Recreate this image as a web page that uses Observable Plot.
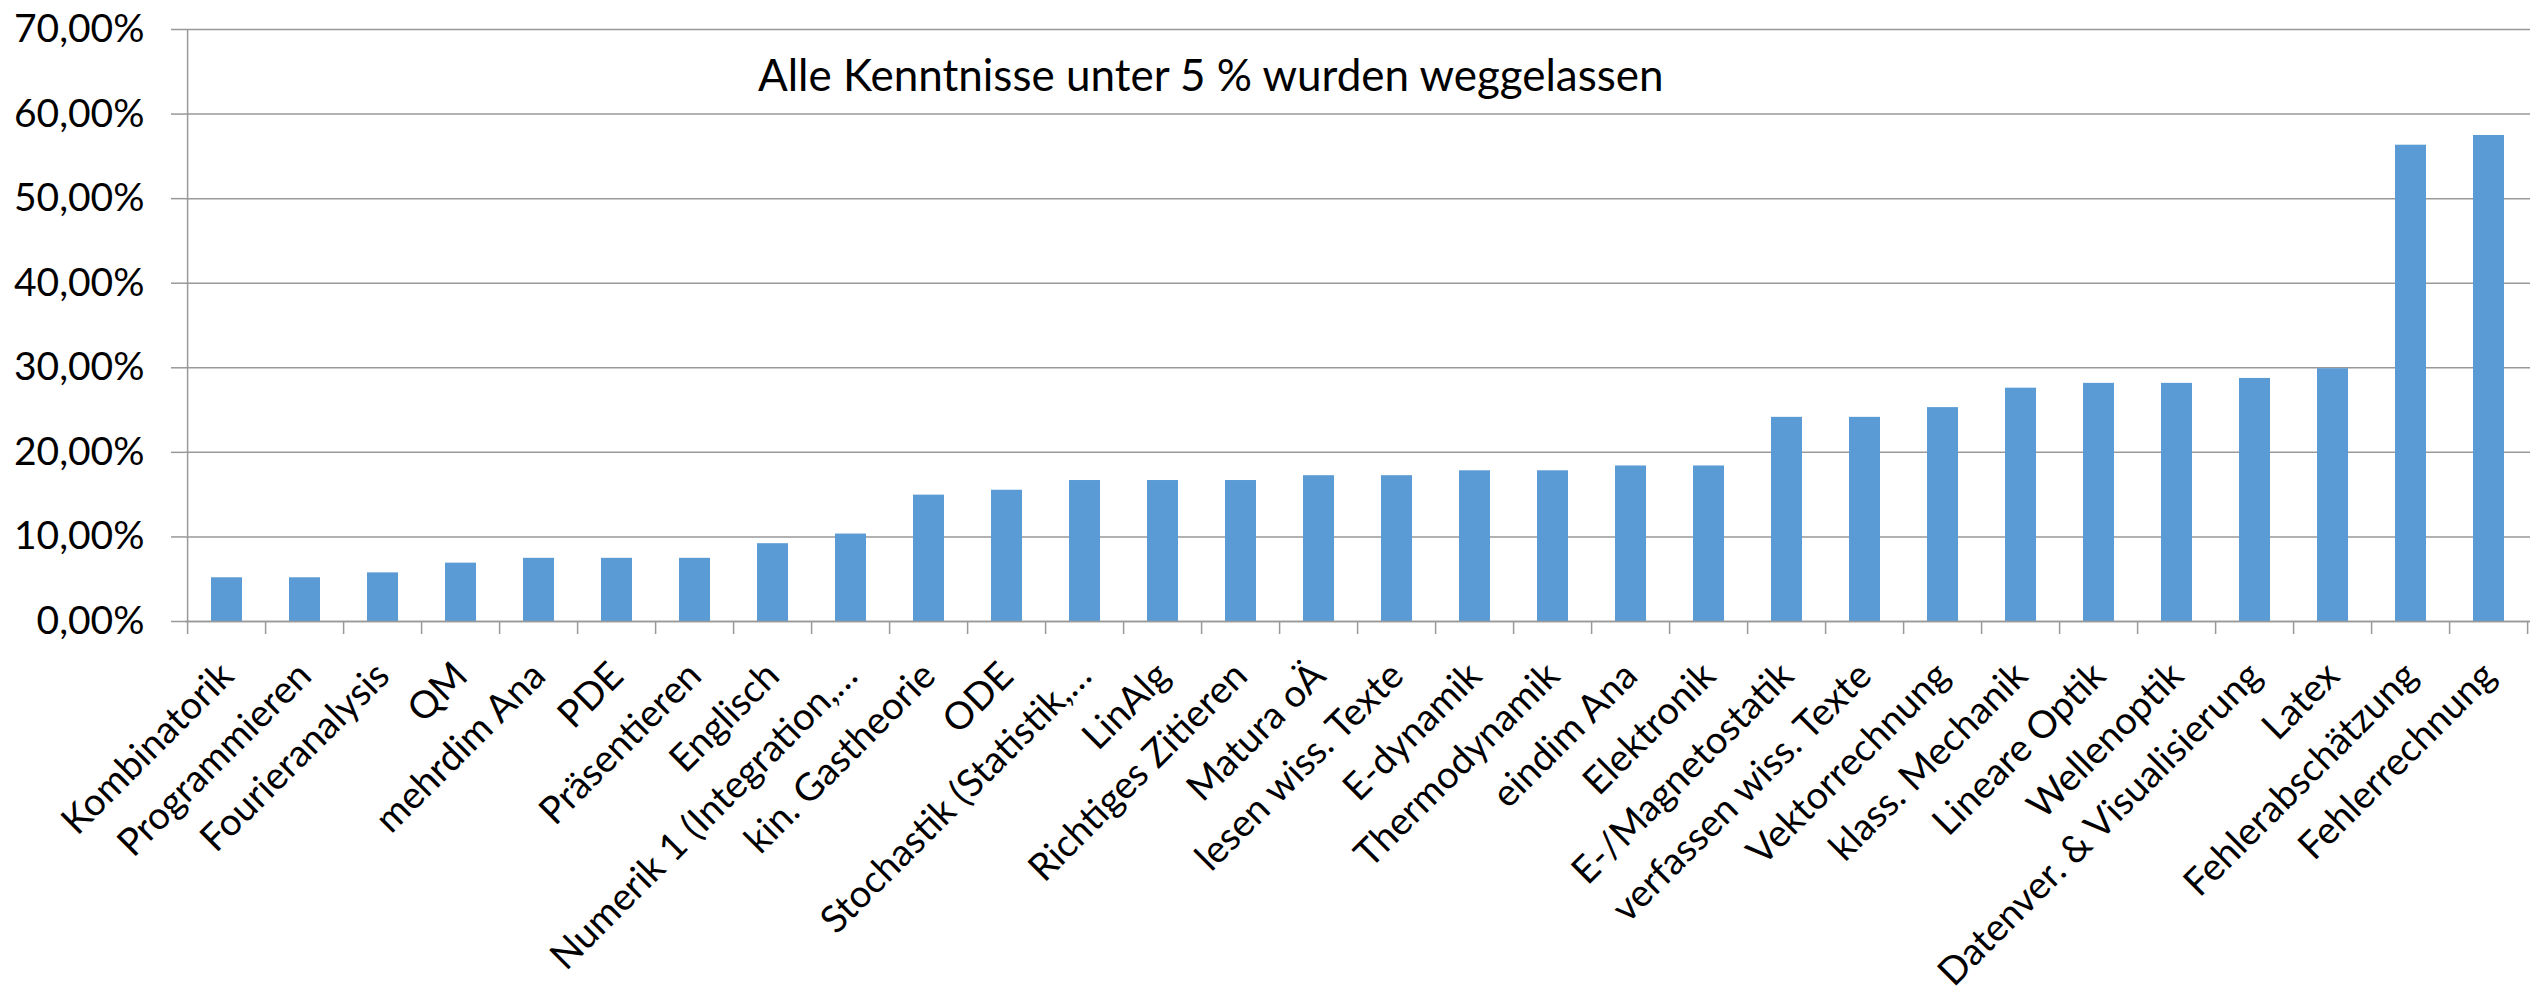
<!DOCTYPE html>
<html>
<head>
<meta charset="utf-8">
<script src="https://cdn.jsdelivr.net/npm/d3@7"></script>
<script src="https://cdn.jsdelivr.net/npm/@observablehq/plot@0.6"></script>
<style>
  html, body { margin: 0; padding: 0; background: #ffffff; }
  #chart svg { display: block; }
</style>
</head>
<body>
<div id="chart"></div>
<script>
// ---- Data ----
const categories = [
  "Kombinatorik", "Programmieren", "Fourieranalysis", "QM", "mehrdim Ana", "PDE",
  "Präsentieren", "Englisch", "Numerik 1 (Integration,…", "kin. Gastheorie", "ODE",
  "Stochastik (Statistik,…", "LinAlg", "Richtiges Zitieren", "Matura oÄ",
  "lesen wiss. Texte", "E-dynamik", "Thermodynamik", "eindim Ana", "Elektronik",
  "E-/Magnetostatik", "verfassen wiss. Texte", "Vektorrechnung", "klass. Mechanik",
  "Lineare Optik", "Wellenoptik", "Datenver. & Visualisierung", "Latex",
  "Fehlerabschätzung", "Fehlerrechnung"
];
const values = [
  0.0517, 0.0517, 0.0575, 0.0690, 0.0747, 0.0747,
  0.0747, 0.0920, 0.1034, 0.1494, 0.1552,
  0.1667, 0.1667, 0.1667, 0.1724,
  0.1724, 0.1782, 0.1782, 0.1839, 0.1839,
  0.2414, 0.2414, 0.2529, 0.2759,
  0.2816, 0.2816, 0.2874, 0.2989,
  0.5632, 0.5747
];
const yTicks = [0, 0.1, 0.2, 0.3, 0.4, 0.5, 0.6, 0.7];
const noteText = "Alle Kenntnisse unter 5 % wurden weggelassen";
const noteCategory = "Englisch";
const noteValue = 0.644;

const data = categories.map((c, i) => ({category: c, value: values[i]}));
const notes = [{category: noteCategory, value: noteValue, text: noteText}];

const fmtPct = d => (d * 100).toFixed(2).replace(".", ",") + "%";
const axisColor = "#999999";
const barColor = "#5B9BD5";
const padInner = 0.6;

// category boundary ticks + vertical axis line, drawn from the x/y scales
function boundaryTicks(index, scales) {
  const x = scales.x, y = scales.y;
  const step = x(categories[1]) - x(categories[0]);
  const bw = step * (1 - padInner);
  const y0 = y(0);
  const xs = categories.map(c => x(c) + bw / 2 - step / 2);
  xs.push(x(categories[categories.length - 1]) + bw / 2 + step / 2);
  const g = d3.create("svg:g").attr("stroke", axisColor).attr("stroke-width", 1.5);
  g.selectAll("line.t").data(xs).join("line")
    .attr("x1", d => d).attr("x2", d => d)
    .attr("y1", y0).attr("y2", y0 + 13);
  g.append("line")
    .attr("x1", xs[0]).attr("x2", xs[0])
    .attr("y1", y(yTicks[yTicks.length - 1])).attr("y2", y0);
  return g.node();
}

const chart = Plot.plot({
  width: 2539,
  height: 1001,
  marginLeft: 185,
  marginRight: 9,
  marginTop: 29,
  marginBottom: 380,
  style: {fontFamily: "Lato, 'Open Sans', sans-serif", fontSize: "38px", color: "#000", background: "#fff"},
  x: {domain: categories, paddingInner: padInner, paddingOuter: padInner / 2, label: null},
  y: {domain: [0, 0.7], label: null},
  marks: [
    Plot.gridY(yTicks, {stroke: axisColor, strokeOpacity: 1, strokeWidth: 1.5}),
    Plot.axisY({ticks: yTicks, tickFormat: fmtPct, tickSize: 14, tickPadding: 27,
      stroke: axisColor, strokeWidth: 1.5, fontSize: 39, label: null}),
    Plot.barY(data, {x: "category", y: "value", fill: barColor}),
    Plot.ruleY([0], {stroke: axisColor, strokeWidth: 1.5}),
    boundaryTicks,
    Plot.axisX({tickSize: 0, tickRotate: -45, tickPadding: 48, fontSize: 38, label: null}),
    Plot.text(notes, {x: "category", y: "value", text: "text", textAnchor: "start",
      dx: -15, fontSize: 44, fill: "#000"})
  ]
});
document.getElementById("chart").appendChild(chart);
</script>
</body>
</html>
